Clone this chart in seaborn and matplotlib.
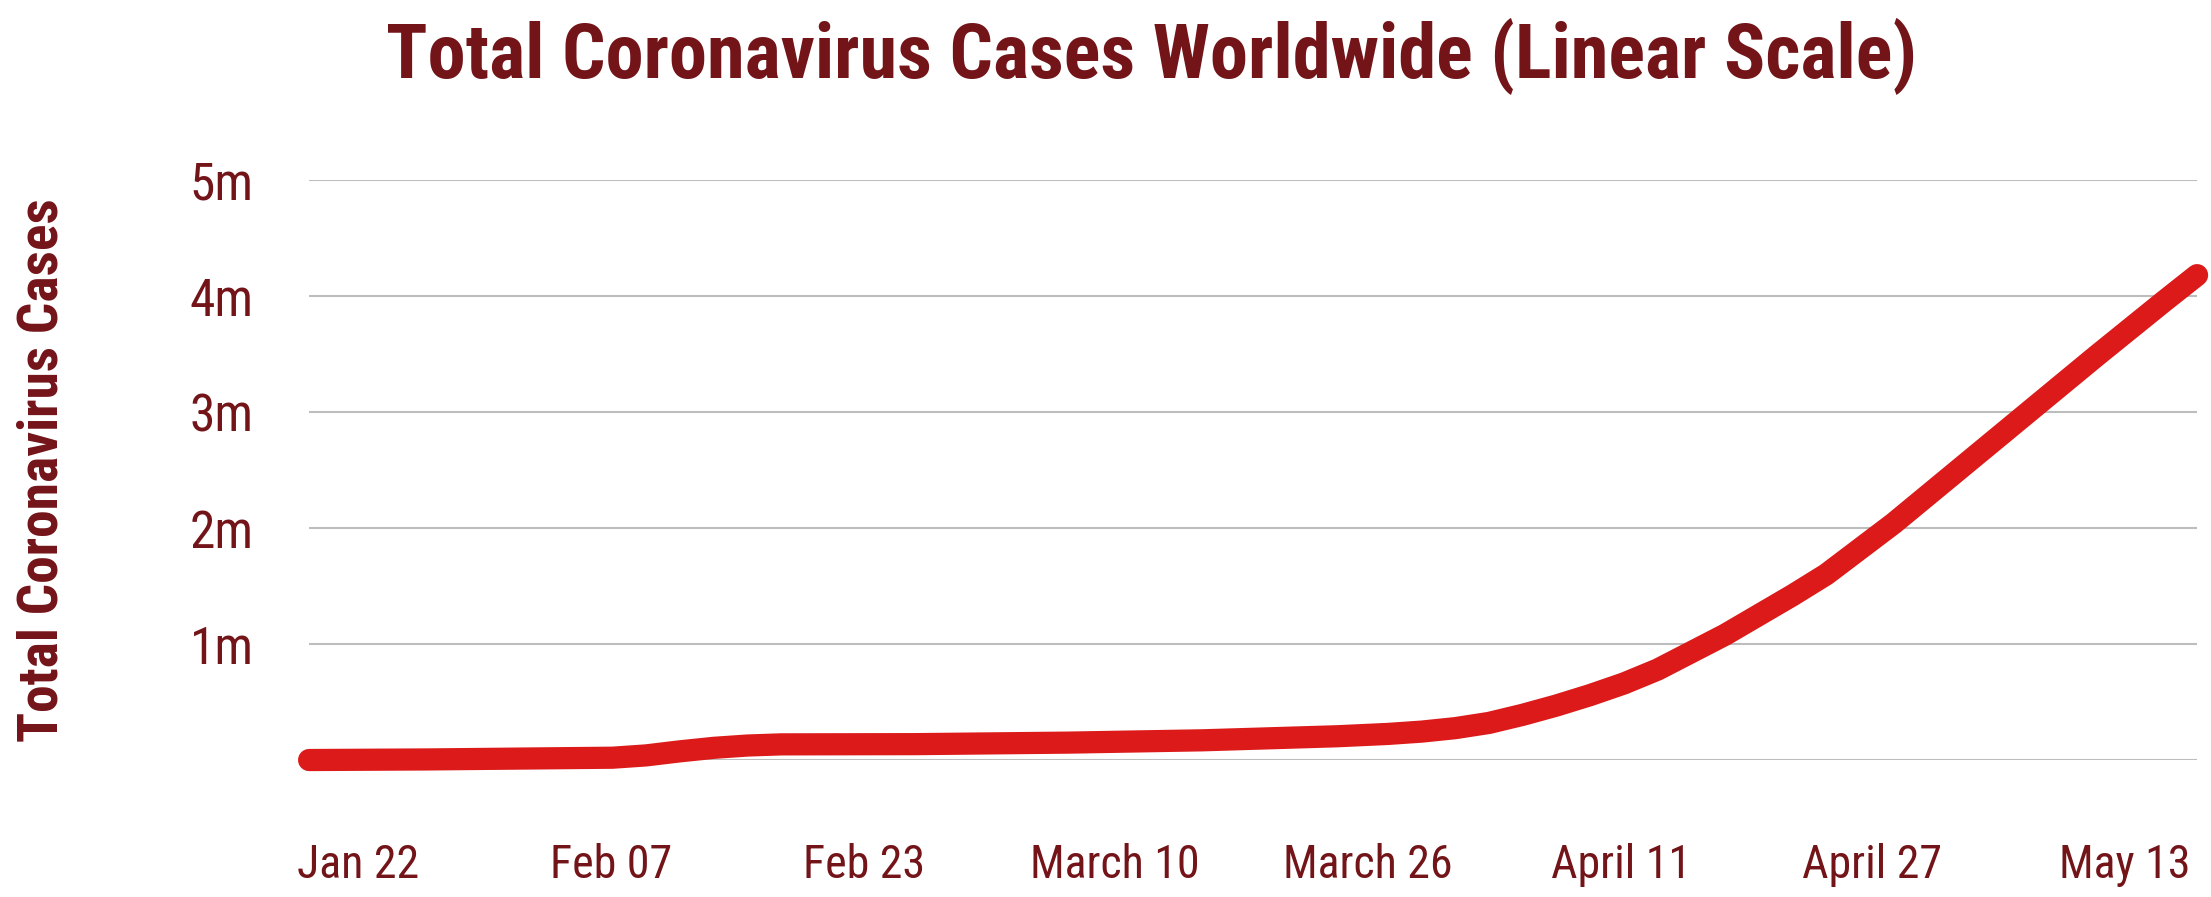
import numpy as np
import pandas as pd
import matplotlib.pyplot as plt
import seaborn as sns

# days since Jan 22 and total cases (millions)
days = [0, 7, 18, 20, 22, 24, 26, 28, 36, 45, 53, 61, 64, 66, 68, 70, 72, 74, 76, 78, 80, 82,
        84, 86, 88, 90, 94, 98, 102, 106, 110, 112]
cases = [0.0, 0.005, 0.02, 0.04, 0.075, 0.105, 0.125, 0.135, 0.137, 0.15, 0.17, 0.205, 0.225, 0.245,
         0.275, 0.32, 0.39, 0.47, 0.56, 0.66, 0.78, 0.93, 1.08, 1.25, 1.42, 1.60, 2.04, 2.52, 3.0, 3.48,
         3.95, 4.18]

tick_labels = ["Jan 22", "Feb 07", "Feb 23", "March 10", "March 26", "April 11", "April 27", "May 13"]
tick_days = [2.9, 17.9, 32.9, 47.8, 62.8, 77.8, 92.7, 107.7]
ytick_vals = [1, 2, 3, 4, 5]
ytick_labels = ["1m", "2m", "3m", "4m", "5m"]

df = pd.DataFrame({"day": days, "cases": cases})

sns.set_style("white")
plt.rcParams["font.family"] = ["Roboto Condensed", "DejaVu Sans"]

dark = "#731419"
fig = plt.figure(figsize=(22.11, 8.97), dpi=100)
ax = fig.add_axes([0.1398, 0.1527, 0.8539, 0.6466])

sns.lineplot(data=df, x="day", y="cases", ax=ax, color="#dc1a1a", linewidth=16,
             solid_capstyle="round", solid_joinstyle="round", clip_on=False, zorder=3)

ax.set_xlim(0, 112)
ax.set_ylim(0, 5)
ax.set_yticks([0] + ytick_vals)
ax.set_yticklabels([""] + ytick_labels)
ax.set_xticks(tick_days)
ax.set_xticklabels(tick_labels)
ax.yaxis.grid(True, color="#bdbdbd", linewidth=1.5)
ax.xaxis.grid(False)
for s in ax.spines.values():
    s.set_visible(False)
ax.tick_params(axis="x", length=0, pad=60, labelsize=33, labelcolor=dark)
ax.tick_params(axis="y", length=0, pad=40, labelsize=37, labelcolor=dark)
ax.set_xlabel("")
ax.set_ylabel("")

fig.text(0.019, 0.476, "Total Coronavirus Cases", rotation=90, ha="center", va="center",
         fontsize=40, fontweight="bold", color=dark)
fig.text(0.521, 0.937, "Total Coronavirus Cases Worldwide (Linear Scale)", ha="center", va="center",
         fontsize=55, fontweight="bold", color=dark)

fig.savefig("out.png", dpi=100, facecolor="white")
